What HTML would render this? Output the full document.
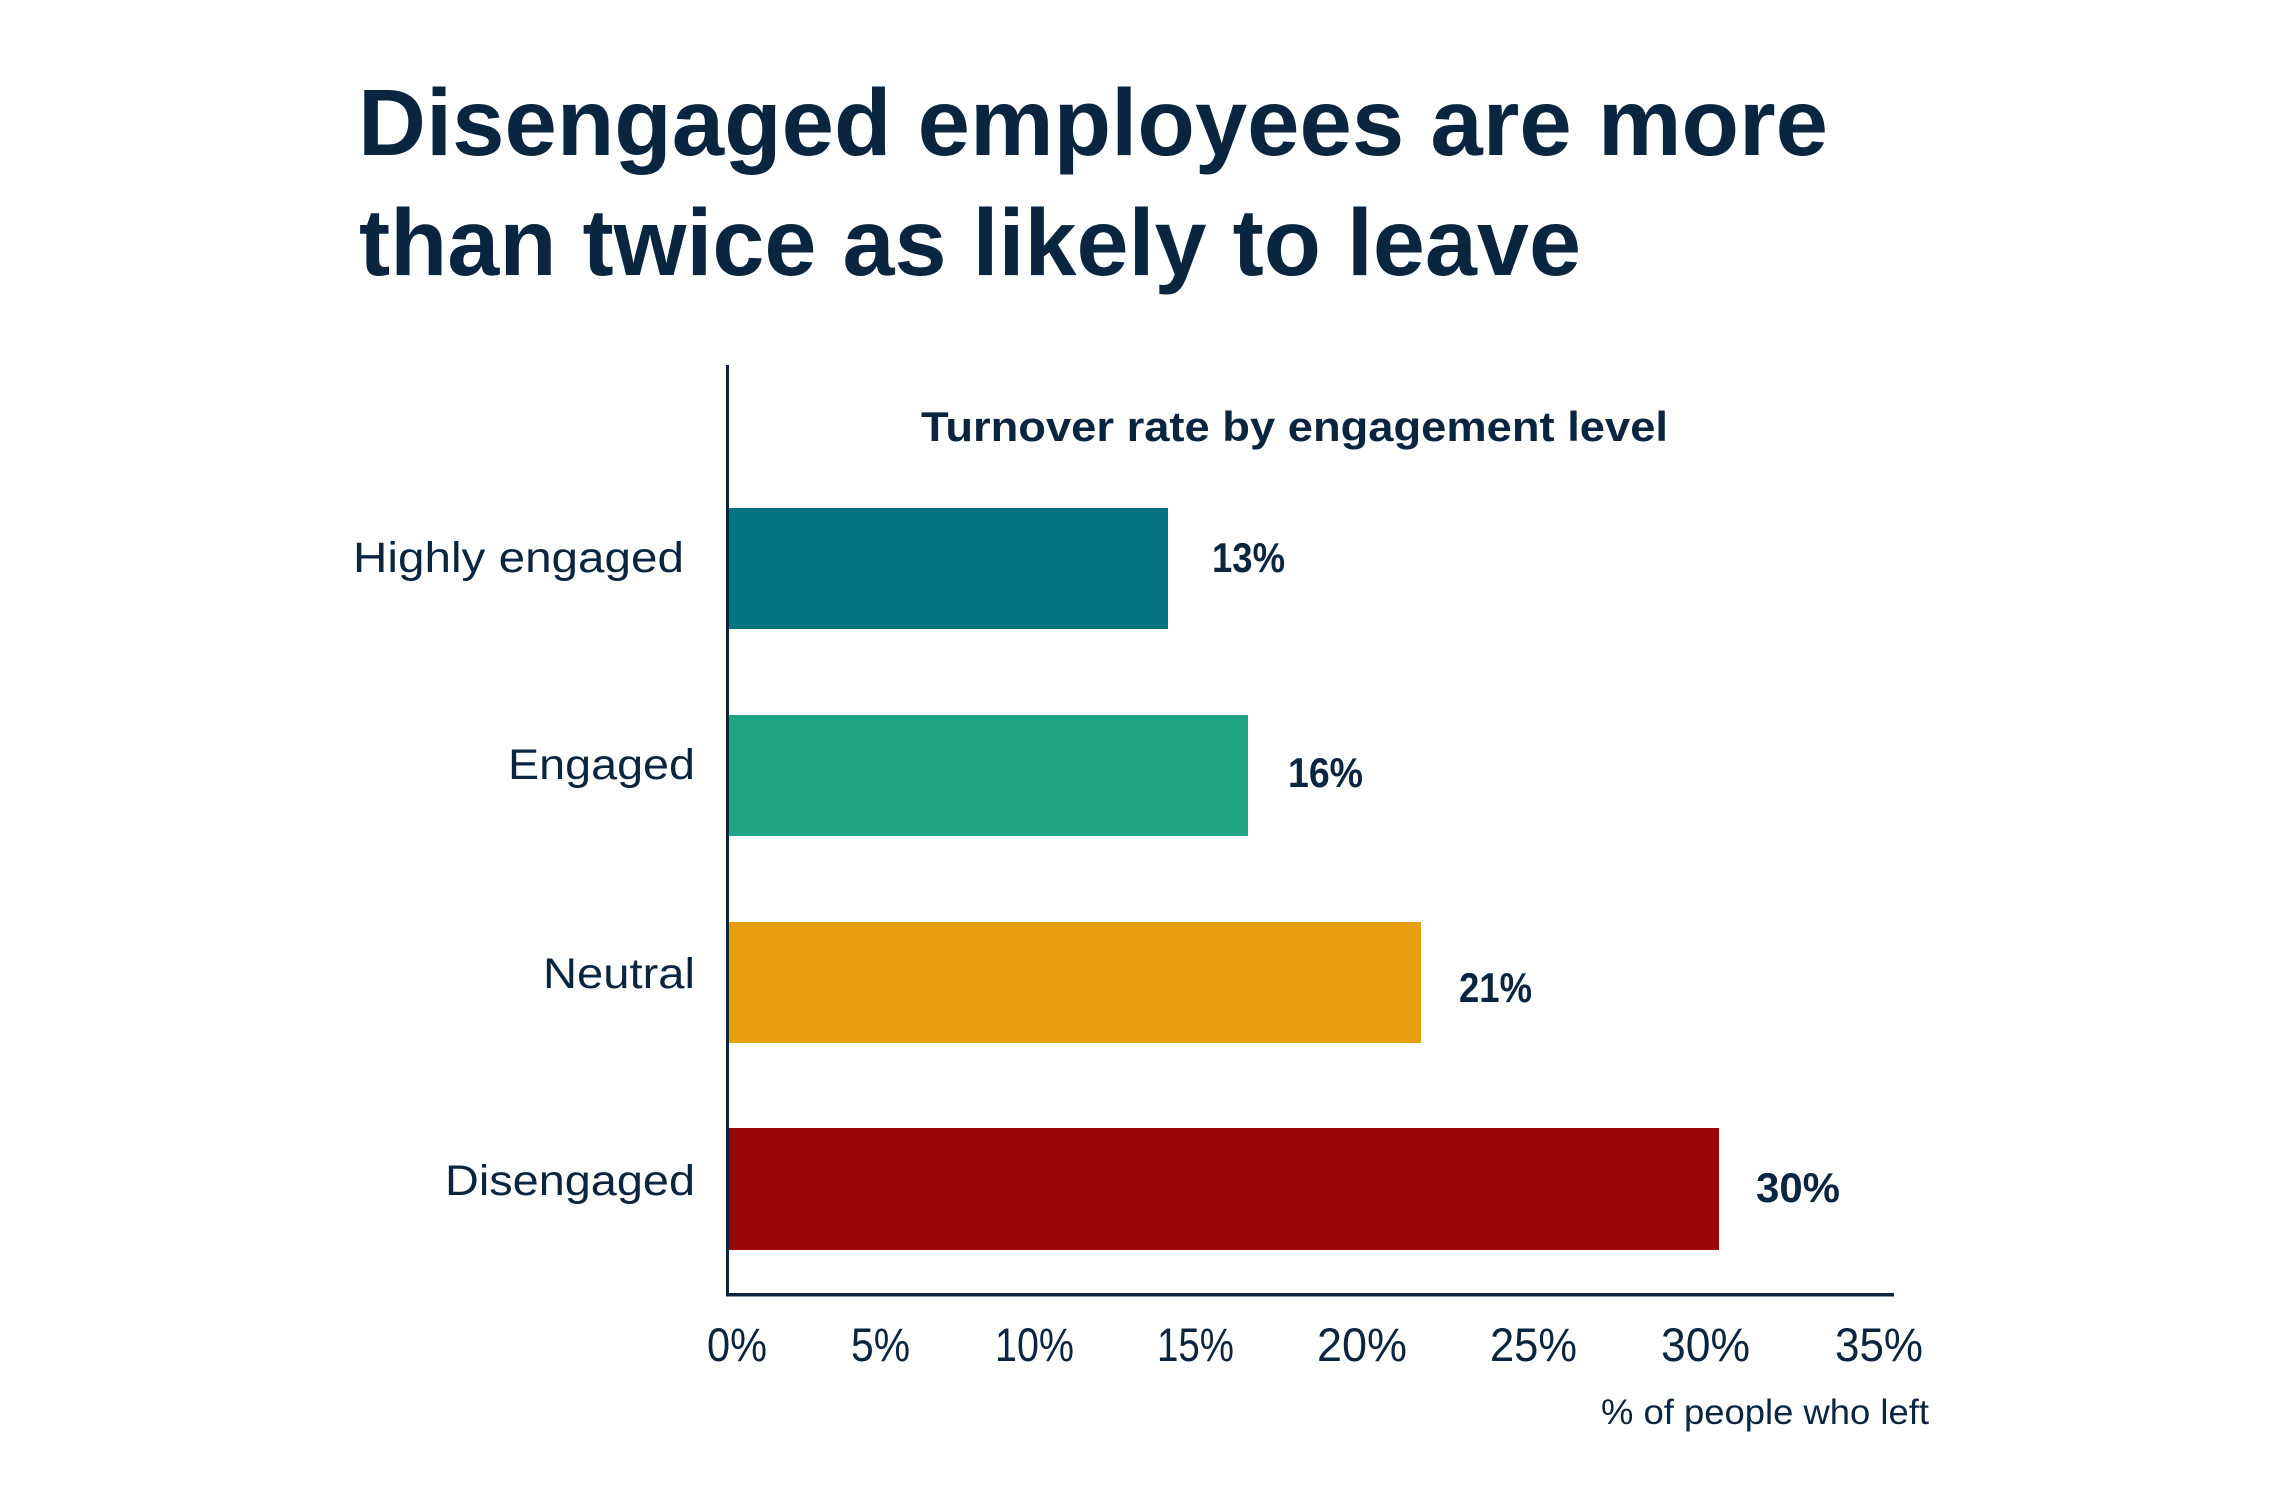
<!DOCTYPE html>
<html>
<head>
<meta charset="utf-8">
<style>
  html, body { margin: 0; padding: 0; background: #ffffff; }
  body { width: 2280px; height: 1504px; overflow: hidden; }
  svg { display: block; }
  text { font-family: "Liberation Sans", "DejaVu Sans", sans-serif; fill: #0a2540; }
  .b { font-weight: bold; }
</style>
</head>
<body>
<svg width="2280" height="1504" viewBox="0 0 2280 1504" xmlns="http://www.w3.org/2000/svg">
  <rect x="0" y="0" width="2280" height="1504" fill="#ffffff"/>

  <!-- Main title -->
  <text class="b" x="358" y="155" font-size="95" textLength="1470" lengthAdjust="spacingAndGlyphs">Disengaged employees are more</text>
  <text class="b" x="359" y="275" font-size="95" textLength="1222" lengthAdjust="spacingAndGlyphs">than twice as likely to leave</text>

  <!-- Chart title -->
  <text class="b" x="921" y="441" font-size="42" textLength="747" lengthAdjust="spacingAndGlyphs">Turnover rate by engagement level</text>

  <!-- Bars -->
  <rect x="728" y="508" width="440" height="121" fill="#037480"/>
  <rect x="728" y="715" width="520" height="121" fill="#20a486"/>
  <rect x="728" y="922" width="693" height="121" fill="#e89f0f"/>
  <rect x="728" y="1128" width="991" height="122" fill="#9b0709"/>

  <!-- Axes -->
  <rect x="726" y="365" width="3" height="931" fill="#0a2540"/>
  <rect x="726" y="1293" width="1168" height="3.5" fill="#0a2540"/>

  <!-- Category labels -->
  <text x="353" y="572" font-size="43" textLength="331" lengthAdjust="spacingAndGlyphs">Highly engaged</text>
  <text x="508" y="779" font-size="43" textLength="187" lengthAdjust="spacingAndGlyphs">Engaged</text>
  <text x="543" y="988" font-size="43" textLength="152" lengthAdjust="spacingAndGlyphs">Neutral</text>
  <text x="445" y="1195" font-size="43" textLength="250" lengthAdjust="spacingAndGlyphs">Disengaged</text>

  <!-- Value labels -->
  <text class="b" x="1212" y="572" font-size="42" textLength="73" lengthAdjust="spacingAndGlyphs">13%</text>
  <text class="b" x="1288" y="787" font-size="42" textLength="75" lengthAdjust="spacingAndGlyphs">16%</text>
  <text class="b" x="1459" y="1002" font-size="42" textLength="73" lengthAdjust="spacingAndGlyphs">21%</text>
  <text class="b" x="1756" y="1202" font-size="42" textLength="84" lengthAdjust="spacingAndGlyphs">30%</text>

  <!-- Tick labels -->
  <text x="707" y="1361" font-size="47" textLength="60" lengthAdjust="spacingAndGlyphs">0%</text>
  <text x="851" y="1361" font-size="47" textLength="59" lengthAdjust="spacingAndGlyphs">5%</text>
  <text x="995" y="1361" font-size="47" textLength="79" lengthAdjust="spacingAndGlyphs">10%</text>
  <text x="1157" y="1361" font-size="47" textLength="77" lengthAdjust="spacingAndGlyphs">15%</text>
  <text x="1317" y="1361" font-size="47" textLength="90" lengthAdjust="spacingAndGlyphs">20%</text>
  <text x="1490" y="1361" font-size="47" textLength="87" lengthAdjust="spacingAndGlyphs">25%</text>
  <text x="1661" y="1361" font-size="47" textLength="89" lengthAdjust="spacingAndGlyphs">30%</text>
  <text x="1835" y="1361" font-size="47" textLength="88" lengthAdjust="spacingAndGlyphs">35%</text>

  <!-- Axis title -->
  <text x="1601" y="1424" font-size="35" textLength="328" lengthAdjust="spacingAndGlyphs">% of people who left</text>
</svg>
</body>
</html>
